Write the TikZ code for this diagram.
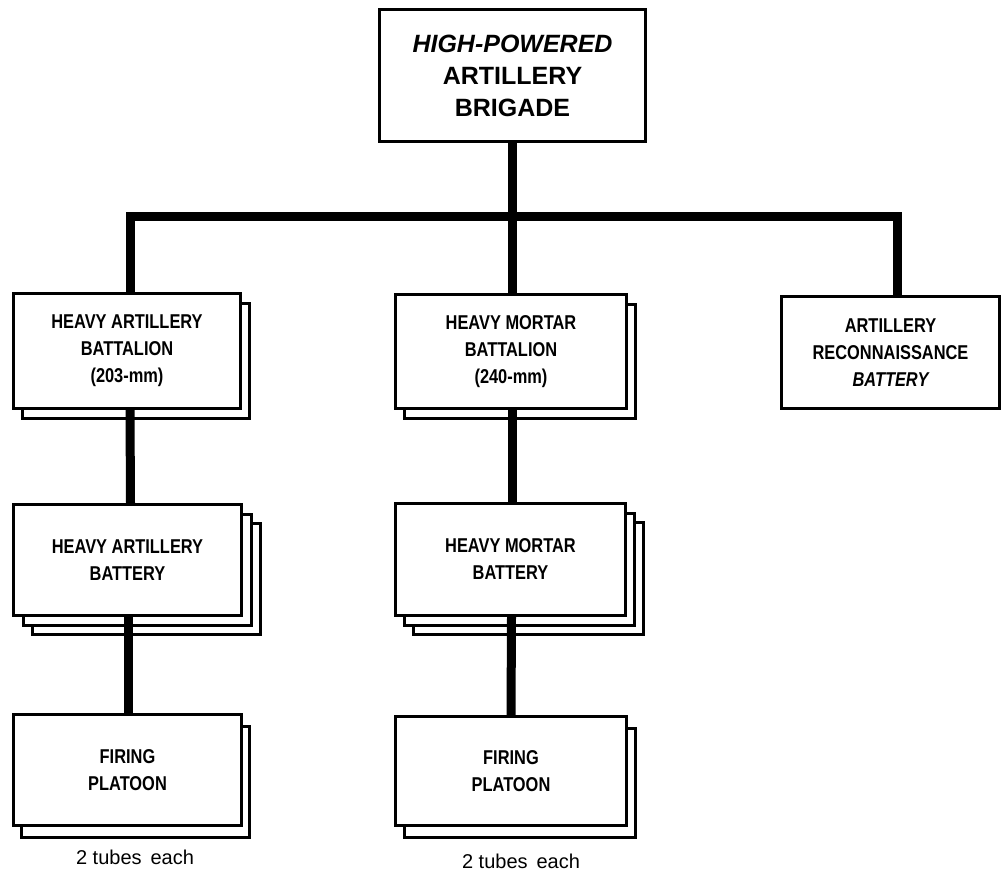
\documentclass[tikz,border=0pt]{standalone}
\usepackage{fontspec}
\setmainfont{Liberation Sans}
\newfontfamily\condf{Liberation Sans}[FakeStretch=0.82]
\usetikzlibrary{shadows}
\tikzset{
  box/.style={draw=black, fill=white, line width=3.2pt, rectangle, inner sep=0pt, align=center,
    font=\condf\bfseries\fontsize{20}{27}\selectfont},
  shad/.style 2 args={general shadow={shadow xshift=#1pt, shadow yshift=-#2pt, draw=black, fill=white, line width=3pt}},
  link/.style={draw=black, line width=9pt},
  note/.style={font=\fontsize{20}{24}\selectfont, inner sep=0pt}
}
\begin{document}
\begin{tikzpicture}[x=1pt,y=-1pt]
\useasboundingbox (0,0) rectangle (1003,877);
% top
\node[box, line width=3.8pt, minimum width=266pt, minimum height=132pt,
  font=\bfseries\fontsize{25}{32}\selectfont] (top) at (512.5,75.5)
  {\itshape HIGH-POWERED\\ARTILLERY\\BRIGADE};
% battalions
\node[box, shad={9}{10}, minimum width=227pt, minimum height=115pt] (hab) at (127,351)
  {HEAVY ARTILLERY\\BATTALION\\(203-mm)};
\node[box, shad={9}{10}, minimum width=231pt, minimum height=114pt] (hmb) at (511,351.5)
  {HEAVY MORTAR\\BATTALION\\(240-mm)};
\node[box, minimum width=218pt, minimum height=112pt] (rec) at (890.5,352.5)
  {ARTILLERY\\RECONNAISSANCE\\{\itshape BATTERY}};
% batteries
\node[box, shad={19}{19}, shad={10}{10}, minimum width=228pt, minimum height=111pt] (hab2) at (127.5,560)
  {HEAVY ARTILLERY\\BATTERY};
\node[box, shad={18}{19}, shad={9}{10}, minimum width=230pt, minimum height=112pt] (hmb2) at (510.5,559.5)
  {HEAVY MORTAR\\BATTERY};
% platoons
\node[box, shad={8}{12}, minimum width=228pt, minimum height=111pt] (fp1) at (127.5,770)
  {FIRING\\PLATOON};
\node[box, shad={9}{12}, minimum width=231pt, minimum height=109pt] (fp2) at (511,771)
  {FIRING\\PLATOON};
% notes
\node[note] (n1) at (135,857) {2 tubes\, each};
\node[note] (n2) at (521,861) {2 tubes\, each};
% connectors
\coordinate (jl) at (130,217);
\coordinate (jm) at (512.5,217);
\coordinate (jr) at (897,217);
\draw[link] (top.south) -- (jm);
\draw[link, line join=miter] (jl |- hab.north) -- (jl) -- (jr) -- (jr |- rec.north);
\draw[link] (jm) -- (jm |- hmb.north);
\draw[link] ([xshift=3pt]hab.south) -- ([xshift=3pt]hab2.north);
\draw[link] ([xshift=1pt]hmb.south) -- ([xshift=1.5pt]hmb2.north);
\draw[link] ([xshift=1pt]hab2.south) -- ([xshift=1pt]fp1.north);
\draw[link] ([xshift=1pt]hmb2.south) -- (fp2.north);
\end{tikzpicture}
\end{document}
